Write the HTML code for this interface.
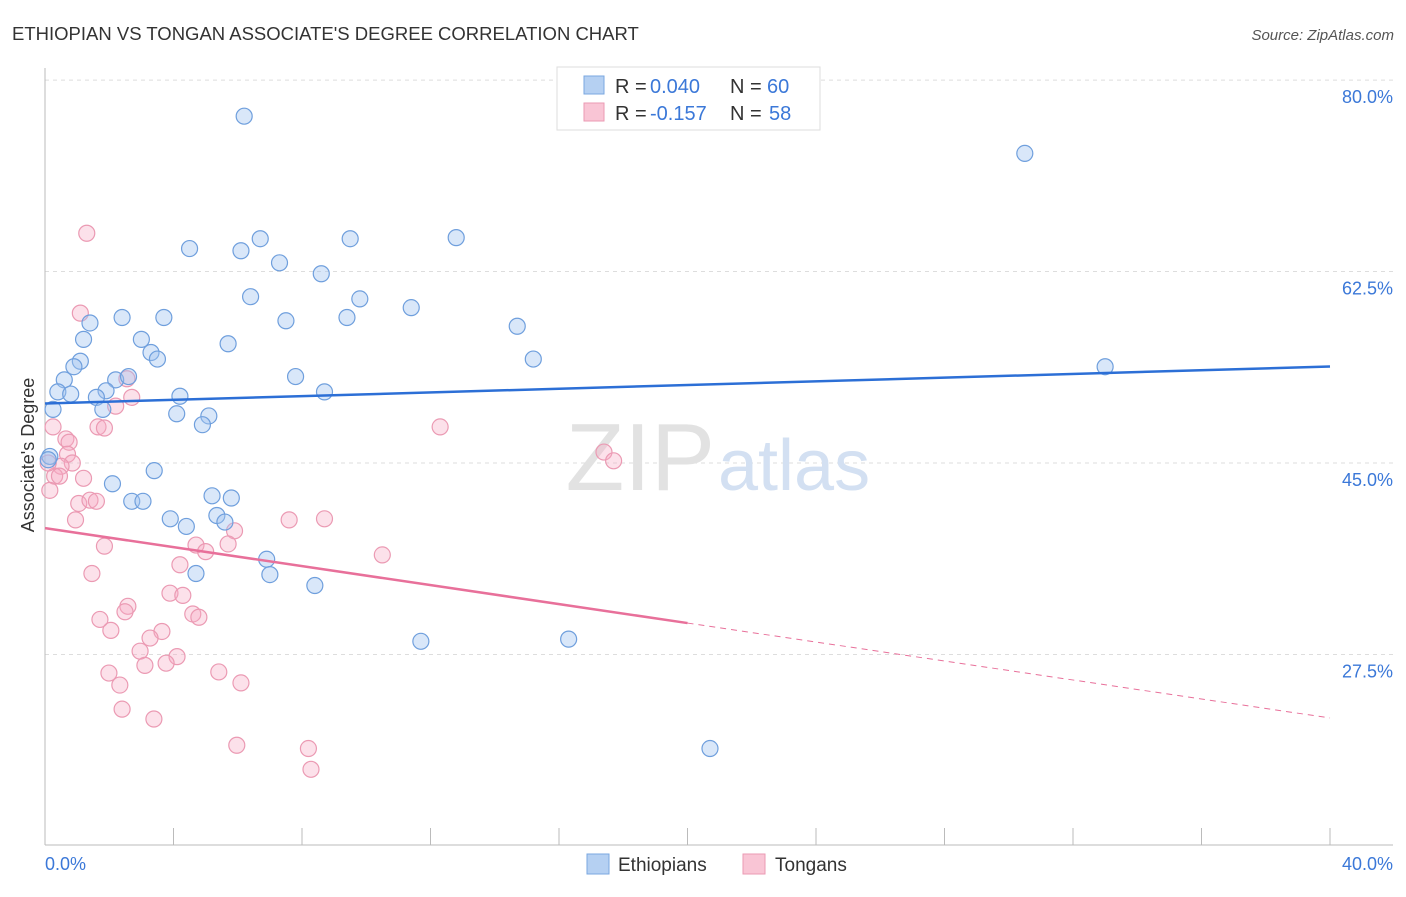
<!DOCTYPE html>
<html><head><meta charset="utf-8"><style>
body{margin:0;background:#fff;font-family:"Liberation Sans",sans-serif}
svg text{font-family:"Liberation Sans",sans-serif}
</style></head><body>
<svg width="1406" height="892" xmlns="http://www.w3.org/2000/svg">
<text x="12" y="40" font-size="18.5" fill="#333">ETHIOPIAN VS TONGAN ASSOCIATE'S DEGREE CORRELATION CHART</text>
<text x="1394" y="40" font-size="15" fill="#555" text-anchor="end" font-style="italic">Source: ZipAtlas.com</text>
<g id="grid"></g>
<g id="axes"></g>
<text x="715" y="490" font-size="96" fill="#e2e2e2" text-anchor="end" font-family="Liberation Serif">ZIP</text>
<text x="718" y="490" font-size="72" fill="#d3e0f2">atlas</text>
<g id="marks"></g>
<text x="0" y="0" font-size="18" fill="#333" text-anchor="middle" transform="translate(34,455) rotate(-90)">Associate's Degree</text>
<g>
<rect x="557" y="67" width="263" height="63" fill="#fff" stroke="#ddd"/>
<rect x="584" y="76" width="20" height="18" fill="#b5d0f2" stroke="#7aa7e0"/>
<rect x="584" y="103" width="20" height="18" fill="#f9c5d5" stroke="#eb9ab3"/>
<text x="615" y="93" font-size="20" fill="#333">R =</text>
<text x="650" y="93" font-size="20" fill="#3b78d8">0.040</text>
<text x="730" y="93" font-size="20" fill="#333">N =</text>
<text x="767" y="93" font-size="20" fill="#3b78d8">60</text>
<text x="615" y="120" font-size="20" fill="#333">R =</text>
<text x="650" y="120" font-size="20" fill="#3b78d8">-0.157</text>
<text x="730" y="120" font-size="20" fill="#333">N =</text>
<text x="769" y="120" font-size="20" fill="#3b78d8">58</text>
</g>
<g>
<rect x="587" y="854" width="22" height="20" fill="#b5d0f2" stroke="#7aa7e0"/>
<text x="618" y="871" font-size="19" fill="#333">Ethiopians</text>
<rect x="743" y="854" width="22" height="20" fill="#f9c5d5" stroke="#eb9ab3"/>
<text x="775" y="871" font-size="19" fill="#333">Tongans</text>
</g>
</svg>
<script>
const yTicks=[27.5,45.0,62.5,80.0];
const xTickLabels=["0.0%","40.0%"];
const blueX=[6.2,30.5,4.5,6.1,6.7,9.5,12.8,7.3,8.6,6.4,9.8,11.4,2.4,3.7,1.4,7.5,9.4,14.7,1.2,3.0,5.7,3.3,3.5,1.1,0.9,15.2,33.0,0.6,2.2,2.6,7.8,1.9,0.4,0.8,1.6,4.2,8.7,1.8,0.25,4.1,5.1,4.9,0.15,3.4,2.1,2.7,3.05,5.2,5.8,3.9,5.35,5.6,4.4,6.9,7.0,4.7,8.4,11.7,16.3,20.7,0.1];
const blueY=[76.7,73.3,64.6,64.4,65.5,65.5,65.6,63.3,62.3,60.2,60.0,59.2,58.3,58.3,57.8,58.0,58.3,57.5,56.3,56.3,55.9,55.1,54.5,54.3,53.8,54.5,53.8,52.6,52.6,52.9,52.9,51.6,51.5,51.3,51.0,51.1,51.5,49.9,49.9,49.5,49.3,48.5,45.6,44.3,43.1,41.5,41.5,42.0,41.8,39.9,40.2,39.6,39.2,36.2,34.8,34.9,33.8,28.7,28.9,18.9,45.3];
const pinkX=[1.3,1.1,2.55,2.2,2.7,1.65,1.85,0.25,0.65,0.75,0.7,0.85,0.5,12.3,17.4,17.7,1.2,0.3,0.45,0.15,1.05,1.4,1.6,0.95,7.6,8.7,5.9,4.7,5.7,5.0,1.85,10.5,4.2,1.46,2.58,3.89,4.29,4.6,4.79,2.49,1.71,2.05,3.64,3.27,2.96,4.11,3.11,3.77,1.99,5.41,2.33,6.1,2.4,3.39,5.97,8.2,8.28,0.1];
const pinkY=[66.0,58.7,52.7,50.2,51.0,48.3,48.2,48.3,47.2,46.9,45.8,45.0,44.7,48.3,46.0,45.2,43.6,43.8,43.8,42.5,41.3,41.6,41.5,39.8,39.8,39.9,38.8,37.5,37.6,36.9,37.4,36.6,35.7,34.9,31.9,33.1,32.9,31.2,30.9,31.4,30.7,29.7,29.6,29.0,27.8,27.3,26.5,26.7,25.8,25.9,24.7,24.9,22.5,21.6,19.2,18.9,17.0,45.0];
const NS="http://www.w3.org/2000/svg";
const X=v=>45+v/40*1285, Y=v=>463-(v-45)*10.94;
function mk(p,t,a){const e=document.createElementNS(NS,t);for(const k in a)e.setAttribute(k,a[k]);p.appendChild(e);return e;}
const grid=document.getElementById('grid'),axes=document.getElementById('axes'),marks=document.getElementById('marks');
yTicks.forEach(t=>{
 const l=mk(grid,'line',{x1:45,x2:1393,y1:Y(t),y2:Y(t),stroke:'#ddd','stroke-dasharray':'4,4'});
 
 
 const tx=mk(grid,'text',{x:1393,y:Y(t)+23,'font-size':18,fill:'#3b78d8','text-anchor':'end'});tx.textContent=t.toFixed(1)+'%';
 
 
});
mk(axes,'line',{x1:45,x2:45,y1:68,y2:845,stroke:'#bbb'});
mk(axes,'line',{x1:45,x2:1393,y1:845,y2:845,stroke:'#bbb'});
for(let i=0;i<=10;i++){mk(axes,'line',{x1:X(i*4),x2:X(i*4),y1:828,y2:845,stroke:'#bbb'});}
const xl0=mk(axes,'text',{x:45,y:870,'font-size':18,fill:'#3b78d8'});xl0.textContent=xTickLabels[0];


const xl1=mk(axes,'text',{x:1393,y:870,'font-size':18,fill:'#3b78d8','text-anchor':'end'});xl1.textContent=xTickLabels[1];


pinkX.forEach((x,i)=>{const c=mk(marks,'circle',{cx:X(x),cy:Y(pinkY[i]),r:8,fill:'rgba(246,170,195,0.35)',stroke:'#eb9ab3','stroke-width':1.2});
 
 });
blueX.forEach((x,i)=>{const c=mk(marks,'circle',{cx:X(x),cy:Y(blueY[i]),r:8,fill:'rgba(160,195,240,0.4)',stroke:'#6f9fdd','stroke-width':1.2});
 
 });
function fit(xs,ys){const n=xs.length,mx=xs.reduce((a,b)=>a+b)/n,my=ys.reduce((a,b)=>a+b)/n;let sxy=0,sxx=0;xs.forEach((x,i)=>{sxy+=(x-mx)*(ys[i]-my);sxx+=(x-mx)**2});const b=sxy/sxx;return [my-b*mx,b];}
const [ba,bb]=fit(blueX,blueY),[pa,pb]=fit(pinkX,pinkY);
const bl=mk(marks,'line',{x1:X(0),y1:Y(ba),x2:X(40),y2:Y(ba+bb*40),stroke:'#2c6fd6','stroke-width':2.5});


const pl=mk(marks,'line',{x1:X(0),y1:Y(pa),x2:X(20),y2:Y(pa+pb*20),stroke:'#e8709a','stroke-width':2.5});


const pd=mk(marks,'line',{x1:X(20),y1:Y(pa+pb*20),x2:X(40),y2:Y(pa+pb*40),stroke:'#e8709a','stroke-width':1,'stroke-dasharray':'6,5'});


</script>
</body></html>
